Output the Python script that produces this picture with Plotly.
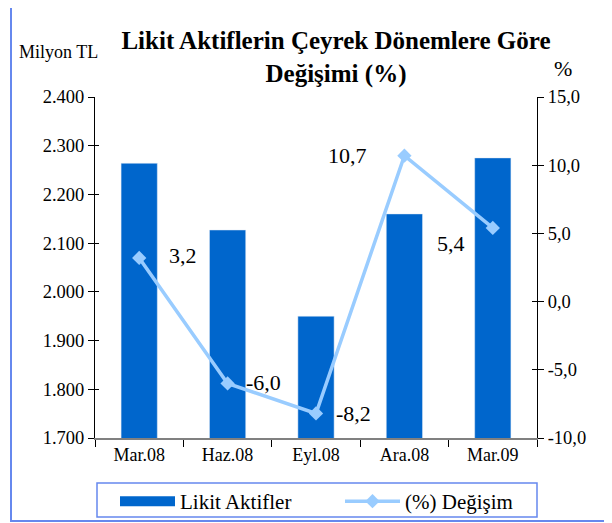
import plotly.graph_objects as go

# veri
donemler = ["Mar.08", "Haz.08", "Eyl.08", "Ara.08", "Mar.09"]
likit_aktifler = [2264, 2127, 1950, 2160, 2275]   # milyon TL
degisim = [3.2, -6.0, -8.2, 10.7, 5.4]            # %
etiketler = ["3,2", "-6,0", "-8,2", "10,7", "5,4"]
sag_tik_degerleri = [-10, -5, 0, 5, 10, 15]
sag_tik_etiketleri = ["-10,0", "-5,0", "0,0", "5,0", "10,0", "15,0"]

# etiket kaydirmalari (px)
etiket_dx = [44, 36, 37, -57, -42]
etiket_dy = [2, 1, 0, 0, -16]

serif = "Liberation Serif"
mavi = "#0066cc"
acik_mavi = "#99ccff"
cerceve = "#6688ee"

fig = go.Figure()
fig.add_trace(go.Bar(x=donemler, y=likit_aktifler, name="Likit Aktifler",
                     marker_color=mavi, width=0.41, yaxis="y", showlegend=False))
# lejant icin genis dikdortgen simge
fig.add_trace(go.Scatter(x=[None], y=[None], name="Likit Aktifler", mode="lines",
                         line=dict(color=mavi, width=14), legend="legend"))
fig.add_trace(go.Scatter(x=donemler, y=degisim, name="(%) Değişim", yaxis="y2",
                         mode="lines+markers", legend="legend2",
                         line=dict(color=acik_mavi, width=3.5),
                         marker=dict(symbol="diamond", size=11, color=acik_mavi)))
# eksenleri kesen tikler icin bos izler
for ax in ["y3", "y4"]:
    fig.add_trace(go.Scatter(x=[None], y=[None], yaxis=ax, showlegend=False,
                             hoverinfo="skip"))

for d, v, t, dx, dy in zip(donemler, degisim, etiketler, etiket_dx, etiket_dy):
    fig.add_annotation(x=d, y=v, yref="y2", text=t, showarrow=False,
                       xshift=dx, yshift=dy,
                       font=dict(family=serif, size=22, color="black"))

fig.add_annotation(text="Milyon TL", xref="paper", yref="paper",
                   x=(58 - 95) / 442, y=(438 - 52) / 341, showarrow=False,
                   xanchor="center", yanchor="middle",
                   font=dict(family=serif, size=18, color="black"))
fig.add_annotation(text="%", xref="paper", yref="paper",
                   x=(563 - 95) / 442, y=(438 - 68) / 341, showarrow=False,
                   xanchor="center", yanchor="middle",
                   font=dict(family=serif, size=22, color="black"))

# dis cerceve ve lejant kutusu
fig.add_shape(type="rect", xref="paper", yref="paper",
              x0=(11 - 95) / 442, x1=(640 - 95) / 442,
              y0=(438 - 521) / 341, y1=(438 - 5) / 341,
              line=dict(color=cerceve, width=2), layer="below")
fig.add_shape(type="rect", xref="paper", yref="paper",
              x0=(97 - 95) / 442, x1=(537 - 95) / 442,
              y0=(438 - 517) / 341, y1=(438 - 483) / 341,
              line=dict(color=cerceve, width=1.5), layer="below")

tf = dict(family=serif, size=18.5, color="black")
ic_tik = dict(showline=False, showgrid=False, zeroline=False, showticklabels=False,
              ticks="inside", tickcolor="black", overlaying="y")
lejant = dict(orientation="h", xanchor="left", xref="container",
              y=1 - 473 / 523, yanchor="top", yref="container",
              borderwidth=0, bgcolor="rgba(0,0,0,0)",
              font=dict(family=serif, size=21, color="black"), itemwidth=55)

# sayfa 8px govde kenar boslugu ile kayiyor; ona gore ayarli
fig.update_layout(
    width=612, height=523,
    margin=dict(l=87, r=83, t=89, b=93, autoexpand=False),
    paper_bgcolor="white", plot_bgcolor="white",
    separators=",.",
    font=dict(family=serif, color="black", size=18),
    title=dict(text="<b>Likit Aktiflerin Çeyrek Dönemlere Göre<br>Değişimi (%)</b>",
               x=328 / 612, xanchor="center", y=1 - 41 / 523, yanchor="top",
               font=dict(family=serif, size=25, color="black")),
    xaxis=dict(showline=True, linecolor="#808080", linewidth=1.5,
               tickson="boundaries", ticks="outside", ticklen=7, tickcolor="black",
               tickfont=dict(family=serif, size=18, color="black"), showgrid=False),
    yaxis=dict(range=[1700, 2400], dtick=100, tickformat=",d",
               showline=True, linecolor="black", linewidth=1,
               ticks="outside", ticklen=6, tickcolor="black", tickfont=tf,
               showgrid=False, zeroline=False),
    yaxis2=dict(range=[-10, 15], tickmode="array", tickvals=sag_tik_degerleri,
                ticktext=sag_tik_etiketleri, overlaying="y",
                side="right", showline=True, linecolor="black", linewidth=1,
                ticks="outside", ticklen=6, tickcolor="black", tickfont=tf,
                showgrid=False, zeroline=False),
    yaxis3=dict(range=[1700, 2400], dtick=100, side="left", ticklen=4, **ic_tik),
    yaxis4=dict(range=[-10, 15], dtick=5, side="right", ticklen=5, **ic_tik),
    legend=dict(x=107 / 612, **lejant),
    legend2=dict(x=332 / 612, **lejant),
    showlegend=True,
)

fig.write_html("out.html")
